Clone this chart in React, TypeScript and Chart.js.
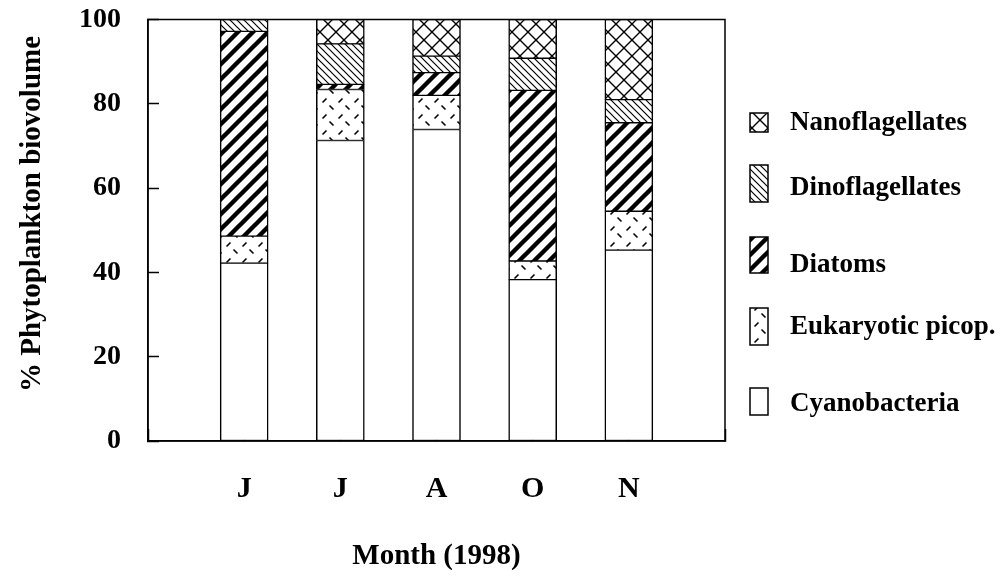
import React, { useEffect, useRef } from 'react';
import { Chart, registerables } from 'chart.js';

Chart.register(...registerables);

// ---- data (percent of phytoplankton biovolume, 1998) ----
const MONTHS = ['J', 'J', 'A', 'O', 'N'];
const CYANOBACTERIA = [42.2, 71.3, 73.9, 38.3, 45.3];
const EUK_PICOP = [6.4, 12.1, 8.1, 4.4, 9.2];
const DIATOMS = [48.6, 1.2, 5.4, 40.5, 21.0];
const DINOFLAGELLATES = [2.8, 9.6, 3.9, 7.6, 5.5];
const NANOFLAGELLATES = [0, 5.8, 8.7, 9.2, 19.0];
const Y_TICKS = [0, 20, 40, 60, 80, 100];

const Y_TITLE = '% Phytoplankton biovolume';
const X_TITLE = 'Month (1998)';
const FONT = '"Liberation Serif", "Times New Roman", serif';

// legend layout (top to bottom: Nanoflagellates ... Cyanobacteria)
const LEGEND_BOX_X = 750;
const LEGEND_BOX_W = 18;
const LEGEND_TEXT_X = 790;
const LEGEND_ROWS = [
  { top: 113, bottom: 132, textY: 123 },
  { top: 165, bottom: 202, textY: 188 },
  { top: 237, bottom: 273, textY: 265 },
  { top: 308, bottom: 345, textY: 327 },
  { top: 388, bottom: 415, textY: 404 },
];

type Kind = 'cyano' | 'picop' | 'diatom' | 'dino' | 'nano';

function makePattern(kind: Kind): CanvasPattern | string {
  if (kind === 'cyano') return '#ffffff';
  const size = kind === 'dino' ? 7 : kind === 'diatom' ? 15 : 16;
  const c = document.createElement('canvas');
  c.width = size;
  c.height = size;
  const g = c.getContext('2d')!;
  g.fillStyle = '#ffffff';
  g.fillRect(0, 0, size, size);
  g.strokeStyle = '#000000';
  g.lineCap = 'butt';
  g.beginPath();
  if (kind === 'nano') {
    g.lineWidth = 1.4;
    for (let k = -1; k <= 1; k++) {
      g.moveTo(-1, -1 + k * size);
      g.lineTo(size + 1, size + 1 + k * size);
      g.moveTo(size + 1, -1 + k * size);
      g.lineTo(-1, size + 1 + k * size);
    }
  } else if (kind === 'dino') {
    g.lineWidth = 1.2;
    for (let k = -1; k <= 1; k++) {
      g.moveTo(-1, -1 + k * size);
      g.lineTo(size + 1, size + 1 + k * size);
    }
  } else if (kind === 'diatom') {
    g.lineWidth = 4.4;
    for (let k = 0; k <= 2; k++) {
      g.moveTo(-2, k * size + 2);
      g.lineTo(size + 2, k * size - size - 2);
    }
  } else if (kind === 'picop') {
    g.lineWidth = 1.6;
    g.moveTo(2.5, 6.5);
    g.lineTo(6.5, 2.5);
    g.moveTo(9.5, 9.5);
    g.lineTo(13.5, 13.5);
  }
  g.stroke();
  return g.createPattern(c, 'repeat')!;
}

export default function App() {
  const ref = useRef<HTMLCanvasElement>(null);

  useEffect(() => {
    document.body.style.margin = '0';
    const canvas = ref.current!;
    const pad = (arr: number[]) => [null, ...arr, null];
    const border = { top: 1, bottom: 1, left: 1.5, right: 1.5 };

    const series: { label: string; data: number[]; kind: Kind }[] = [
      { label: 'Cyanobacteria', data: CYANOBACTERIA, kind: 'cyano' },
      { label: 'Eukaryotic picop.', data: EUK_PICOP, kind: 'picop' },
      { label: 'Diatoms', data: DIATOMS, kind: 'diatom' },
      { label: 'Dinoflagellates', data: DINOFLAGELLATES, kind: 'dino' },
      { label: 'Nanoflagellates', data: NANOFLAGELLATES, kind: 'nano' },
    ];

    const datasets = series.map((s) => ({
      label: s.label,
      data: pad(s.data),
      backgroundColor: makePattern(s.kind),
      borderColor: '#000000',
      borderWidth: border,
      borderSkipped: false,
      barThickness: 48,
    }));

    const framePlugin = {
      id: 'frameAndLegend',
      afterDraw(chart: any) {
        const ctx = chart.ctx as CanvasRenderingContext2D;
        const a = chart.chartArea;
        ctx.save();
        ctx.strokeStyle = '#000';
        ctx.lineWidth = 1.5;
        ctx.strokeRect(a.left, a.top, a.right - a.left, a.bottom - a.top);

        // y-axis title
        ctx.save();
        ctx.translate(40, 214);
        ctx.rotate(-Math.PI / 2);
        ctx.fillStyle = '#000';
        ctx.font = `bold 29px ${FONT}`;
        ctx.textAlign = 'center';
        ctx.textBaseline = 'alphabetic';
        ctx.fillText(Y_TITLE, 0, 0);
        ctx.restore();

        // legend (reverse stacking order)
        const ds = [...chart.data.datasets].reverse();
        ctx.font = `bold 27px ${FONT}`;
        ctx.textAlign = 'left';
        ctx.textBaseline = 'middle';
        ds.forEach((d: any, i: number) => {
          const row = LEGEND_ROWS[i];
          ctx.fillStyle = d.backgroundColor;
          ctx.fillRect(LEGEND_BOX_X, row.top, LEGEND_BOX_W, row.bottom - row.top);
          ctx.lineWidth = 1.5;
          ctx.strokeStyle = '#000';
          ctx.strokeRect(LEGEND_BOX_X, row.top, LEGEND_BOX_W, row.bottom - row.top);
          ctx.fillStyle = '#000';
          ctx.fillText(d.label, LEGEND_TEXT_X, row.textY);
        });
        ctx.restore();
      },
    };

    const chart = new Chart(canvas, {
      type: 'bar',
      data: { labels: ['', ...MONTHS, ''], datasets: datasets as any },
      options: {
        responsive: false,
        animation: false,
        layout: { padding: { top: 19.5, right: 278, left: 0, bottom: 0 } },
        plugins: { legend: { display: false }, tooltip: { enabled: false } },
        scales: {
          x: {
            stacked: true,
            offset: false,
            z: 1,
            grid: {
              drawOnChartArea: false,
              tickLength: -12,
              tickColor: '#000',
              tickWidth: 1.5,
              offset: false,
            },
            border: { color: '#000', width: 1.5 },
            ticks: {
              color: '#000',
              font: { family: FONT, size: 30, weight: 'bold' },
              padding: 42,
              maxRotation: 0,
              autoSkip: false,
            },
            title: {
              display: true,
              text: X_TITLE,
              color: '#000',
              font: { family: FONT, size: 29, weight: 'bold' },
              padding: { top: 0, bottom: 3 },
            },
            afterFit: (s: any) => {
              s.height = 136;
              s.paddingLeft = 0;
              s.paddingRight = 0;
            },
          },
          y: {
            stacked: true,
            min: 0,
            max: 100,
            z: 1,
            grid: {
              drawOnChartArea: false,
              tickLength: -11,
              tickColor: '#000',
              tickWidth: 1.5,
            },
            border: { color: '#000', width: 1.5 },
            ticks: {
              color: '#000',
              font: { family: FONT, size: 28, weight: 'bold' },
              padding: 38,
            },
            afterBuildTicks: (s: any) => {
              s.ticks = Y_TICKS.map((v) => ({ value: v }));
            },
            afterFit: (s: any) => {
              s.width = 148;
              s.paddingTop = 0;
              s.paddingBottom = 0;
            },
          },
        },
      } as any,
      plugins: [framePlugin],
    });
    return () => chart.destroy();
  }, []);

  return (
    <div style={{ width: 1003, height: 577 }}>
      <canvas ref={ref} width={1003} height={577} style={{ display: 'block' }} />
    </div>
  );
}
